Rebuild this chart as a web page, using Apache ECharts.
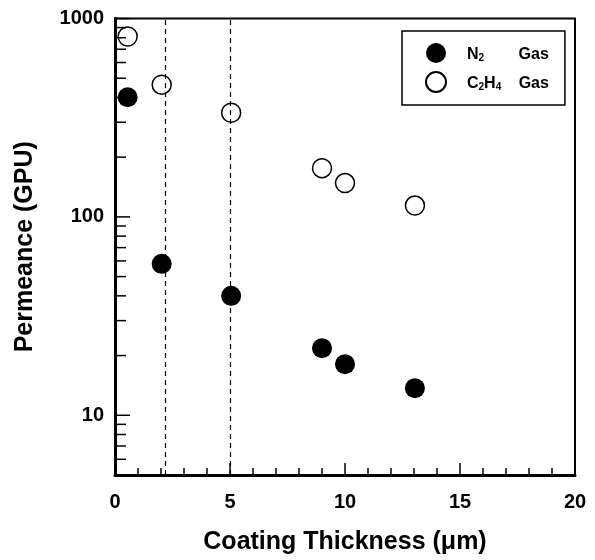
<!DOCTYPE html>
<html>
<head>
<meta charset="utf-8">
<script src="https://cdn.jsdelivr.net/npm/echarts@6/dist/echarts.min.js"></script>
<style>
  html, body { margin: 0; padding: 0; background: #fff; }
  #chart { width: 595px; height: 560px; }
</style>
</head>
<body>
<div id="chart"></div>
<script>
// coating thickness (um)
var thickness = [0.55, 2.03, 5.05, 9.0, 10.0, 13.04];
// permeance (GPU)
var n2Perm = [401, 58, 40, 21.8, 18.1, 13.7];
var c2h4Perm = [811, 464, 335, 176, 148, 114];
// dashed guide lines
var guideX = [2.2, 5];
// log axis ticks
var yMajorTicks = [10, 100, 1000];
var yMinorTicks = [6, 7, 8, 9, 20, 30, 40, 50, 60, 70, 80, 90, 200, 300, 400, 500, 600, 700, 800, 900];
var seriesNames = ['N2 Gas', 'C2H4 Gas'];

var font = 'Liberation Sans, Arial, sans-serif';
var chart = echarts.init(document.getElementById('chart'));

function pairs(xs, ys) {
  return xs.map(function (x, i) { return [x, ys[i]]; });
}

function tickSeries(values, len) {
  return {
    type: 'custom',
    silent: true,
    z: 1,
    clip: false,
    data: values.map(function (v) { return [0, v]; }),
    renderItem: function (params, api) {
      var p = api.coord([0, api.value(1)]);
      return {
        type: 'line',
        shape: { x1: p[0], y1: p[1], x2: p[0] + len, y2: p[1] },
        style: { stroke: '#000', lineWidth: 1.5 }
      };
    }
  };
}

var option = {
  animation: false,
  backgroundColor: '#fff',
  grid: {
    left: 115,
    right: 20,
    top: 18.5,
    bottom: 83.3,
    show: true,
    borderColor: '#000',
    borderWidth: 2
  },
  legend: {
    data: seriesNames,
    orient: 'vertical',
    left: 402,
    top: 31,
    padding: [12, 16, 12, 23],
    itemWidth: 52,
    itemHeight: 20,
    itemGap: 8,
    borderColor: '#000',
    borderWidth: 1.5,
    selectedMode: false,
    formatter: function (name) {
      if (name === 'N2 Gas') return '{b|N}{sN|2}{b|Gas}';
      return '{b|C}{s|2}{b|H}{sC|4}{b|Gas}';
    },
    textStyle: {
      color: '#000',
      fontFamily: font,
      fontWeight: 'bold',
      fontSize: 16,
      rich: {
        b: { fontSize: 16, fontWeight: 'bold', fontFamily: font, lineHeight: 20, verticalAlign: 'bottom', color: '#000' },
        s: { fontSize: 10, fontWeight: 'bold', fontFamily: font, verticalAlign: 'bottom', color: '#000' },
        sN: { fontSize: 10, fontWeight: 'bold', fontFamily: font, verticalAlign: 'bottom', color: '#000', width: 40, align: 'left' },
        sC: { fontSize: 10, fontWeight: 'bold', fontFamily: font, verticalAlign: 'bottom', color: '#000', width: 23, align: 'left' }
      }
    }
  },
  xAxis: {
    type: 'value',
    min: 0,
    max: 20,
    interval: 5,
    name: 'Coating Thickness (\u03bcm)',
    nameLocation: 'middle',
    nameGap: 55,
    nameTextStyle: { color: '#000', fontFamily: font, fontWeight: 'bold', fontSize: 25 },
    axisLine: { show: true, lineStyle: { color: '#000', width: 3 } },
    axisTick: { show: true, inside: true, length: 12, lineStyle: { color: '#000', width: 1.5 } },
    minorTick: { show: true, splitNumber: 5, length: 7, lineStyle: { color: '#000', width: 1.5 } },
    axisLabel: { color: '#000', fontFamily: font, fontWeight: 'bold', fontSize: 20, margin: 17 },
    splitLine: { show: false }
  },
  yAxis: {
    type: 'log',
    logBase: 10,
    min: 5,
    max: 1000,
    name: 'Permeance (GPU)',
    nameLocation: 'middle',
    nameGap: 77,
    nameTextStyle: { color: '#000', fontFamily: font, fontWeight: 'bold', fontSize: 25 },
    axisLine: { show: true, lineStyle: { color: '#000', width: 3 } },
    axisTick: { show: false },
    axisLabel: {
      color: '#000',
      fontFamily: font,
      fontWeight: 'bold',
      fontSize: 20,
      margin: 11,
      showMinLabel: false,
      formatter: function (v) {
        var r = Math.round(v);
        return yMajorTicks.indexOf(r) >= 0 ? String(r) : '';
      }
    },
    splitLine: { show: false }
  },
  series: [
    {
      name: 'N2 Gas',
      type: 'scatter',
      symbol: 'circle',
      symbolSize: 20,
      z: 3,
      itemStyle: { color: '#000', opacity: 1 },
      data: pairs(thickness, n2Perm),
      markLine: {
        silent: true,
        symbol: 'none',
        label: { show: false },
        lineStyle: { color: '#000', type: [5, 4], width: 1.2, opacity: 1 },
        data: guideX.map(function (x) { return { xAxis: x }; })
      }
    },
    {
      name: 'C2H4 Gas',
      type: 'scatter',
      symbol: 'circle',
      symbolSize: 19,
      z: 3,
      itemStyle: { color: 'transparent', borderColor: '#000', borderWidth: 1.5, opacity: 1 },
      data: pairs(thickness, c2h4Perm)
    },
    tickSeries(yMajorTicks, 15),
    tickSeries(yMinorTicks, 11)
  ]
};

chart.setOption(option);
</script>
</body>
</html>
